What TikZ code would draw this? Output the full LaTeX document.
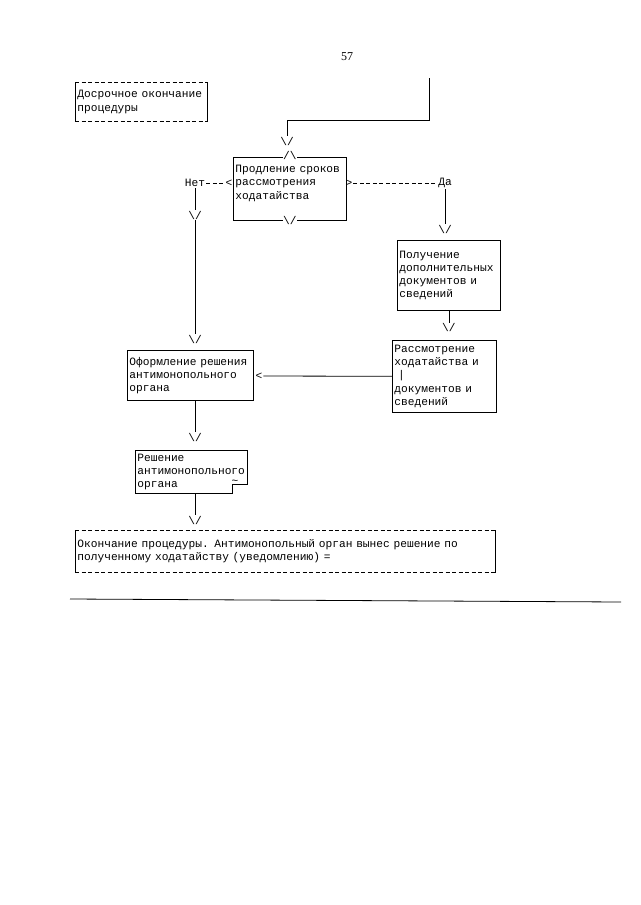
\documentclass[tikz,border=0pt]{standalone}
\usepackage{fontspec}
\setmainfont{Liberation Serif}
\setmonofont{Liberation Mono}
\usetikzlibrary{positioning}
\newcommand{\tw}{\fontsize{11.2}{13.2}\selectfont\ttfamily}
\newcommand{\downtip}{\textbackslash/}
\newcommand{\uptip}{/\textbackslash}
\tikzset{
  box/.style={draw, anchor=north west, align=left, inner xsep=2pt, inner ysep=2pt, font=\tw},
  dbox/.style={anchor=north west, align=left, inner xsep=2pt, inner ysep=2pt, font=\tw},
  tip/.style={font=\tw, inner sep=0.5pt},
  lbl/.style={font=\tw, inner sep=1pt},
  dline/.style={dash pattern=on 4pt off 2.5pt},
}
\begin{document}
\begin{tikzpicture}[x=1pt, y=-1pt, line width=0.8pt]
    \useasboundingbox (0,0) rectangle (640,905);
    \node[font=\fontsize{12}{14}\selectfont] (page) at (347,57) {57};
    % dashed boxes
    \node[dbox, text width=128, minimum height=39] (dosr) at (75,82) {Досрочное окончание\\процедуры};
    \draw[dline] (dosr.north west) -- (dosr.north east);
    \draw[dline] (dosr.south west) -- (dosr.south east);
    \draw (dosr.north west) -- (dosr.south west);
    \draw (dosr.north east) -- (dosr.south east);
    \node[dbox, text width=416, minimum height=42] (okon) at (75,530) {Окончание процедуры. Антимонопольный орган вынес решение по\\полученному ходатайству (уведомлению) =};
    \draw[dline] (okon.north west) -- (okon.north east);
    \draw[dline] (okon.south west) -- (okon.south east);
    \draw (okon.north west) -- (okon.south west);
    \draw (okon.north east) -- (okon.south east);
    % solid boxes
    \node[box, text width=109, minimum height=63] (prod) at (233,157) {Продление сроков\\рассмотрения\\ходатайства\\\mbox{}};
    \node[box, text width=99, minimum height=70] (polu) at (397,240) {Получение\\дополнительных\\документов и\\сведений};
    \node[box, text width=100, minimum height=72] (rass) at (392,340) {Рассмотрение\\ходатайства и\\\ |\\документов и\\сведений};
    \node[box, text width=122, minimum height=50] (ofor) at (127,350) {Оформление решения\\антимонопольного\\органа};
    \node[dbox, text width=108, minimum height=43] (resh) at (135,450) {Решение\\антимонопольного\\органа};
    \draw (resh.south west) -- (resh.north west) -- (resh.north east) -- ++(0,34) -- ++(-15,0) |- (resh.south west);
    \node[lbl] (tilde) at (235,482) {\textasciitilde};
    % tips on the first decision box
    \node[tip, fill=white, yshift=2pt] (ptop) at (prod.north) {\uptip};
    \node[tip, fill=white] (pbot) at (prod.south) {\downtip};
    % entry from above
    \coordinate (entry) at (429,78);
    \node[tip] (t0) at (287,141) {\downtip};
    \draw (entry) -- ++(0,42) -| (t0.north);
    % no / yes branches
    \node[lbl] (net) at (195,183) {Нет};
    \node[tip] (ltip) at (229,183) {<};
    \draw[dline] (net) -- (ltip);
    \node[tip] (rtip) at (349,183) {>};
    \node[lbl] (da) at (445,183) {Да};
    \draw[dline] (rtip) -- (da);
    \node[tip] (t1) at (195,215) {\downtip};
    \node[tip] (t2) at (195,339) {\downtip};
    \draw (net) -- (t1);
    \draw (t1) -- (t2);
    \node[tip] (t3) at (445,229) {\downtip};
    \draw (da) -- (t3);
    \node[tip, below=12pt of polu] (t4) {\downtip};
    \draw (polu) -- (t4);
    \node[tip] (ltip2) at (259,376) {<};
    \draw (rass) -- (ltip2);
    \node[tip] (t5) at (195,437) {\downtip};
    \draw (ofor.south -| t5) -- (t5);
    \node[tip] (t6) at (195,520) {\downtip};
    \draw (resh.south -| t6) -- (t6);
    % rule at the foot
    \coordinate (ruleL) at (70,599);
    \coordinate (ruleR) at (621,602);
    \draw (ruleL) -- (ruleR);
\end{tikzpicture}
\end{document}
